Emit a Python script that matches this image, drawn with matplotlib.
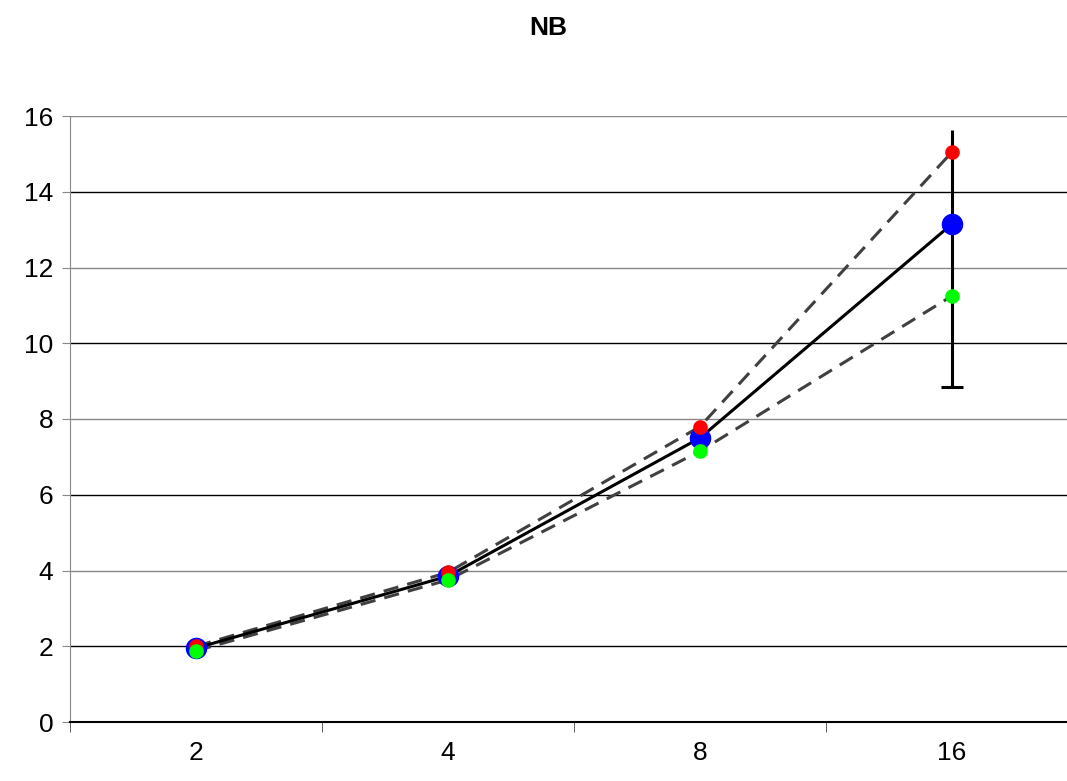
import matplotlib
matplotlib.use("Agg")
import matplotlib.pyplot as plt
import numpy as np

plt.rcParams['font.family'] = ['Liberation Sans', 'DejaVu Sans']

cats = ['2', '4', '8', '16']
red = [2.0, 3.95, 7.8, 15.05]
blue = [1.95, 3.85, 7.5, 13.15]
green = [1.88, 3.75, 7.15, 11.25]
err_low = [0, 0, 0, 4.3]
err_high = [0, 0, 0, 2.47]

x = np.arange(len(cats))

fig = plt.figure(figsize=(10.67, 7.81), dpi=100)
ax = fig.add_axes([70/1067, 59/781, 997/1067, 606/781])

# gridlines, alternating shade like the original
for i, yv in enumerate(range(2, 17, 2)):
    c = 'black' if i % 2 == 0 else '#888888'
    ax.axhline(yv, color=c, lw=1.0, zorder=1)

ax.plot(x, red, ls='--', color='#404040', lw=2.2, dashes=(5, 3), zorder=2)
ax.plot(x, green, ls='--', color='#404040', lw=2.2, dashes=(5, 3), zorder=2)
ax.errorbar(x[3:], blue[3:], yerr=[err_low[3:], err_high[3:]], fmt='none',
            ecolor='black', elinewidth=2.2, capsize=0, zorder=3)
low = np.array(blue) - np.array(err_low)
ax.plot(x[3:], low[3:], marker='_', ms=16, mew=2.2, color='black', ls='none', zorder=3)
ax.plot(x, blue, color='black', lw=2.2, zorder=3)
ax.plot(x, blue, 'o', color='#0000ff', ms=14.5, ls='none', zorder=4)
ax.plot(x, red, 'o', color='#ff0000', ms=9.5, ls='none', zorder=5)
ax.plot(x, green, 'o', color='#00ff00', ms=9.5, ls='none', zorder=5)

ax.set_xlim(-0.5, -0.5 + 997/252)
ax.set_ylim(0, 16)
ax.set_yticks(range(0, 17, 2))
ax.set_xticks(x)
ax.set_xticklabels(cats)
ax.set_xticks(np.arange(len(cats)) - 0.5, minor=True)
ax.tick_params(axis='x', which='major', length=0, pad=14, labelsize=19)
ax.tick_params(axis='x', which='minor', length=7, color='#444444')
ax.tick_params(axis='y', length=6, color='#888888', labelsize=19, pad=6)

for s in ['top', 'right']:
    ax.spines[s].set_visible(False)
ax.spines['left'].set_color('#888888')
ax.spines['bottom'].set_color('black')
ax.spines['bottom'].set_linewidth(1.5)

fig.text(548/1067, 1 - 28/781, 'NB', ha='center', va='center',
         fontsize=19, fontweight='bold')

fig.savefig('out.png', dpi=100)
